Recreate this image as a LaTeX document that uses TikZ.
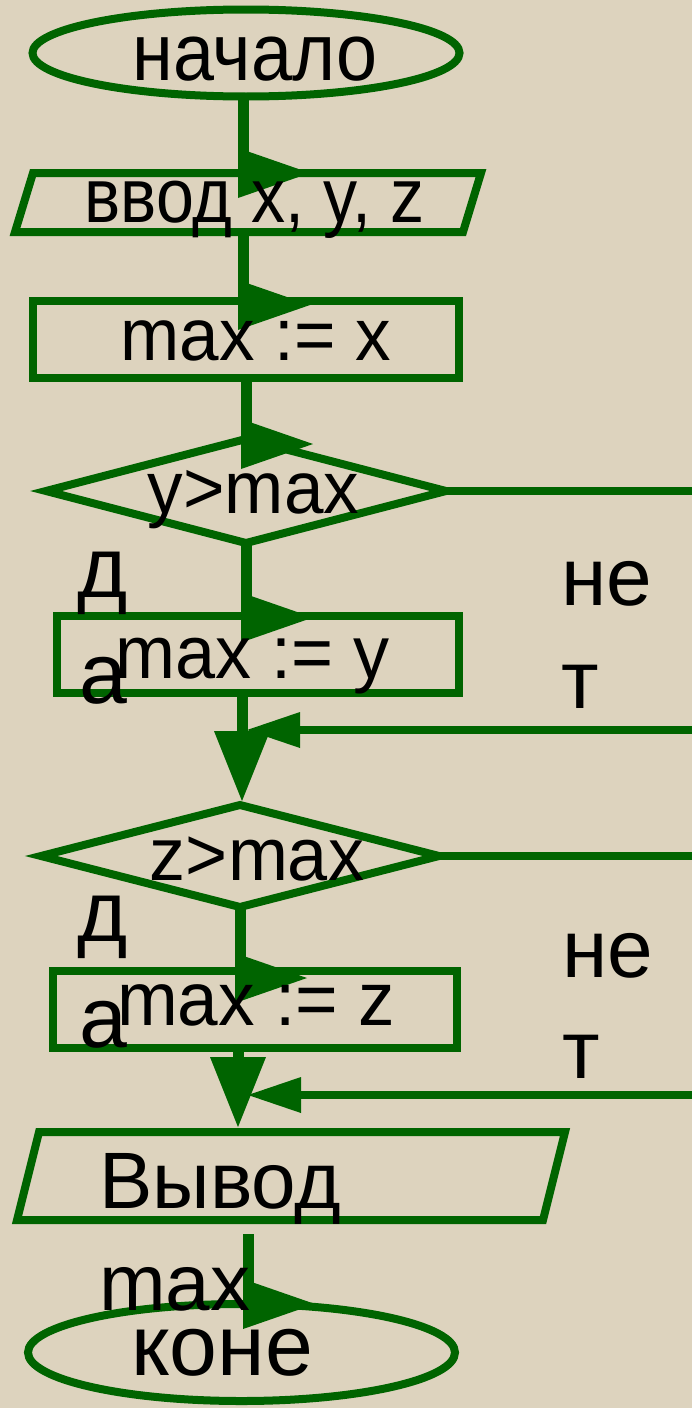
\documentclass[tikz,border=0pt]{standalone}
\usepackage{fontspec}
\setmainfont{Liberation Sans}
\newfontfamily\fA[FakeStretch=0.91]{Liberation Sans}
\newfontfamily\fB[FakeStretch=0.885]{Liberation Sans}
\newfontfamily\fC[FakeStretch=0.96]{Liberation Sans}
\usetikzlibrary{shapes.geometric,calc}
\definecolor{bg}{RGB}{221,211,190}
\definecolor{grn}{RGB}{0,100,0}
\tikzset{
  line/.style={draw=grn,line width=8pt},
  vline/.style={draw=grn,line width=11pt},
  shp/.style={draw=grn,line width=8pt,inner sep=0pt,outer sep=0pt},
  term/.style={shp,ellipse},
  proc/.style={shp,rectangle},
  cond/.style={shp,diamond},
  io/.style={rectangle,inner sep=0pt,outer sep=0pt},
  txt/.style={inner sep=0pt,anchor=base,font=\fC\fontsize{74}{88}\selectfont},
  lbl/.style={inner sep=0pt,font=\fontsize{86}{103}\selectfont},
  rhead/.pic={\fill[grn] (-5,-25) -- (67,0) -- (-5,25) -- cycle;},
  dhead/.pic={\fill[grn] (-28,-70) -- (28,-70) -- (0,0) -- cycle;},
  lhead/.pic={\fill[grn] (0,0) -- (53,-18) -- (53,18) -- cycle;},
}
\begin{document}
\begin{tikzpicture}[x=1pt,y=-1pt]
\fill[bg] (0,0) rectangle (692,1408);
\useasboundingbox (0,0) rectangle (692,1408);
\clip (0,0) rectangle (692,1408);

% column coordinates
\coordinate (c1) at (243,0);
\coordinate (c2) at (246,0);
\coordinate (c3) at (242,0);
\coordinate (c4) at (240,0);
\coordinate (c5) at (238,0);
\coordinate (c6) at (248,0);
\coordinate (rt) at (740,0);
\coordinate (m1) at (247,730);
\coordinate (m2) at (248,1095);

% shapes
\node[term, minimum width=427pt, minimum height=87pt] (e1) at (246,53) {};
\node[io, minimum width=448pt, minimum height=59pt] (p1) at (248,202.5) {};
\draw[grn,line width=8pt] ([xshift=9pt]p1.north west) -- ([xshift=9pt]p1.north east)
  -- ([xshift=-9pt]p1.south east) -- ([xshift=-9pt]p1.south west) -- cycle;
\node[proc, minimum width=426pt, minimum height=77pt] (b1) at (246,339.5) {};
\node[cond, minimum width=400pt, minimum height=104pt] (d1) at (246,491) {};
\node[proc, minimum width=402pt, minimum height=77pt] (b2) at (258,654.5) {};
\node[cond, minimum width=398pt, minimum height=102pt] (d2) at (240,856) {};
\node[proc, minimum width=404.5pt, minimum height=77pt] (b3) at (254.75,1009.5) {};
\node[io, minimum width=526pt, minimum height=88pt] (p2) at (291,1176) {};
\draw[grn,line width=8pt] ([xshift=11pt]p2.north west) -- ([xshift=11pt]p2.north east)
  -- ([xshift=-11pt]p2.south east) -- ([xshift=-11pt]p2.south west) -- cycle;
\node[term, minimum width=427pt, minimum height=97pt] (e2) at (241.5,1352.5) {};

% connectors
\draw[vline] (c1 |- e1.south) -- (c1 |- p1.north);
\draw[vline] (c1 |- p1.south) -- (c1 |- b1.north);
\draw[vline] (c2 |- b1.south) -- (d1.north);
\draw[vline] (d1.south) -- (c2 |- b2.north);
\draw[vline, shorten >=60pt] (c3 |- b2.south) -- (c3 |- d2.north);
\draw[line, shorten >=20pt] (d1.east) -- (d1.east -| rt) -- (rt |- m1) -- (m1);
\draw[vline] (d2.south) -- (c4 |- b3.north);
\draw[vline, shorten >=60pt] (c5 |- b3.south) -- (c5 |- p2.north);
\draw[line, shorten >=20pt] (d2.east) -- (d2.east -| rt) -- (rt |- m2) -- (m2);
\draw[vline, shorten <=14pt] (c6 |- p2.south) -- (c6 |- e2.north);

% arrow heads
\path (c1 |- p1.north) pic {rhead};
\path ($(c1 |- b1.north)+(0,4)$) pic {rhead};
\path ($(c2 |- d1.north)+(0,5)$) pic {rhead};
\path ($(c2 |- b2.north)+(0,1.5)$) pic {rhead};
\path ($(c4 |- b3.north)+(0,7)$) pic {rhead};
\path ($(c6 |- e2.north)+(0,0)$) pic {rhead};
\path ($(c3 |- d2.north)+(0,-4)$) pic {dhead};
\path ($(c5 |- p2.north)+(0,-5)$) pic {dhead};
\path (m1) pic {lhead};
\path (m2) pic {lhead};

% texts
\node[txt, font=\fA\fontsize{81}{96}\selectfont] (t1) at (255,80) {начало};
\node[txt, font=\fB\fontsize{77}{92}\selectfont] (t2) at (254.5,222) {ввод x, y, z};
\node[txt] (t3) at (256,360) {max := x};
\node[txt] (t4) at (253.5,513) {y>max};
\node[txt, font=\fC\fontsize{75}{90}\selectfont] (t5) at (252.5,678) {max := y};
\node[txt, font=\fC\fontsize{75}{90}\selectfont] (t6) at (257,880) {z>max};
\node[txt, font=\fC\fontsize{76}{90}\selectfont] (t7) at (256,1025) {max := z};
\node[lbl, align=left, anchor=base west, font=\fontsize{80}{102}\selectfont] (t8) at (99,1310) {Вывод\\max};
\node[lbl, anchor=base] (t9) at (222,1375) {коне};
\node[lbl, align=center, anchor=base, font=\fontsize{86}{106}\selectfont] (y1) at (103,703) {д\\а};
\node[lbl, align=left, anchor=base west, font=\fontsize{82}{103}\selectfont] (n1) at (561,708) {не\\т};
\node[lbl, align=center, anchor=base, font=\fontsize{86}{106}\selectfont] (y2) at (103,1047) {д\\а};
\node[lbl, align=left, anchor=base west, font=\fontsize{82}{101}\selectfont] (n2) at (562,1078) {не\\т};
\end{tikzpicture}
\end{document}
